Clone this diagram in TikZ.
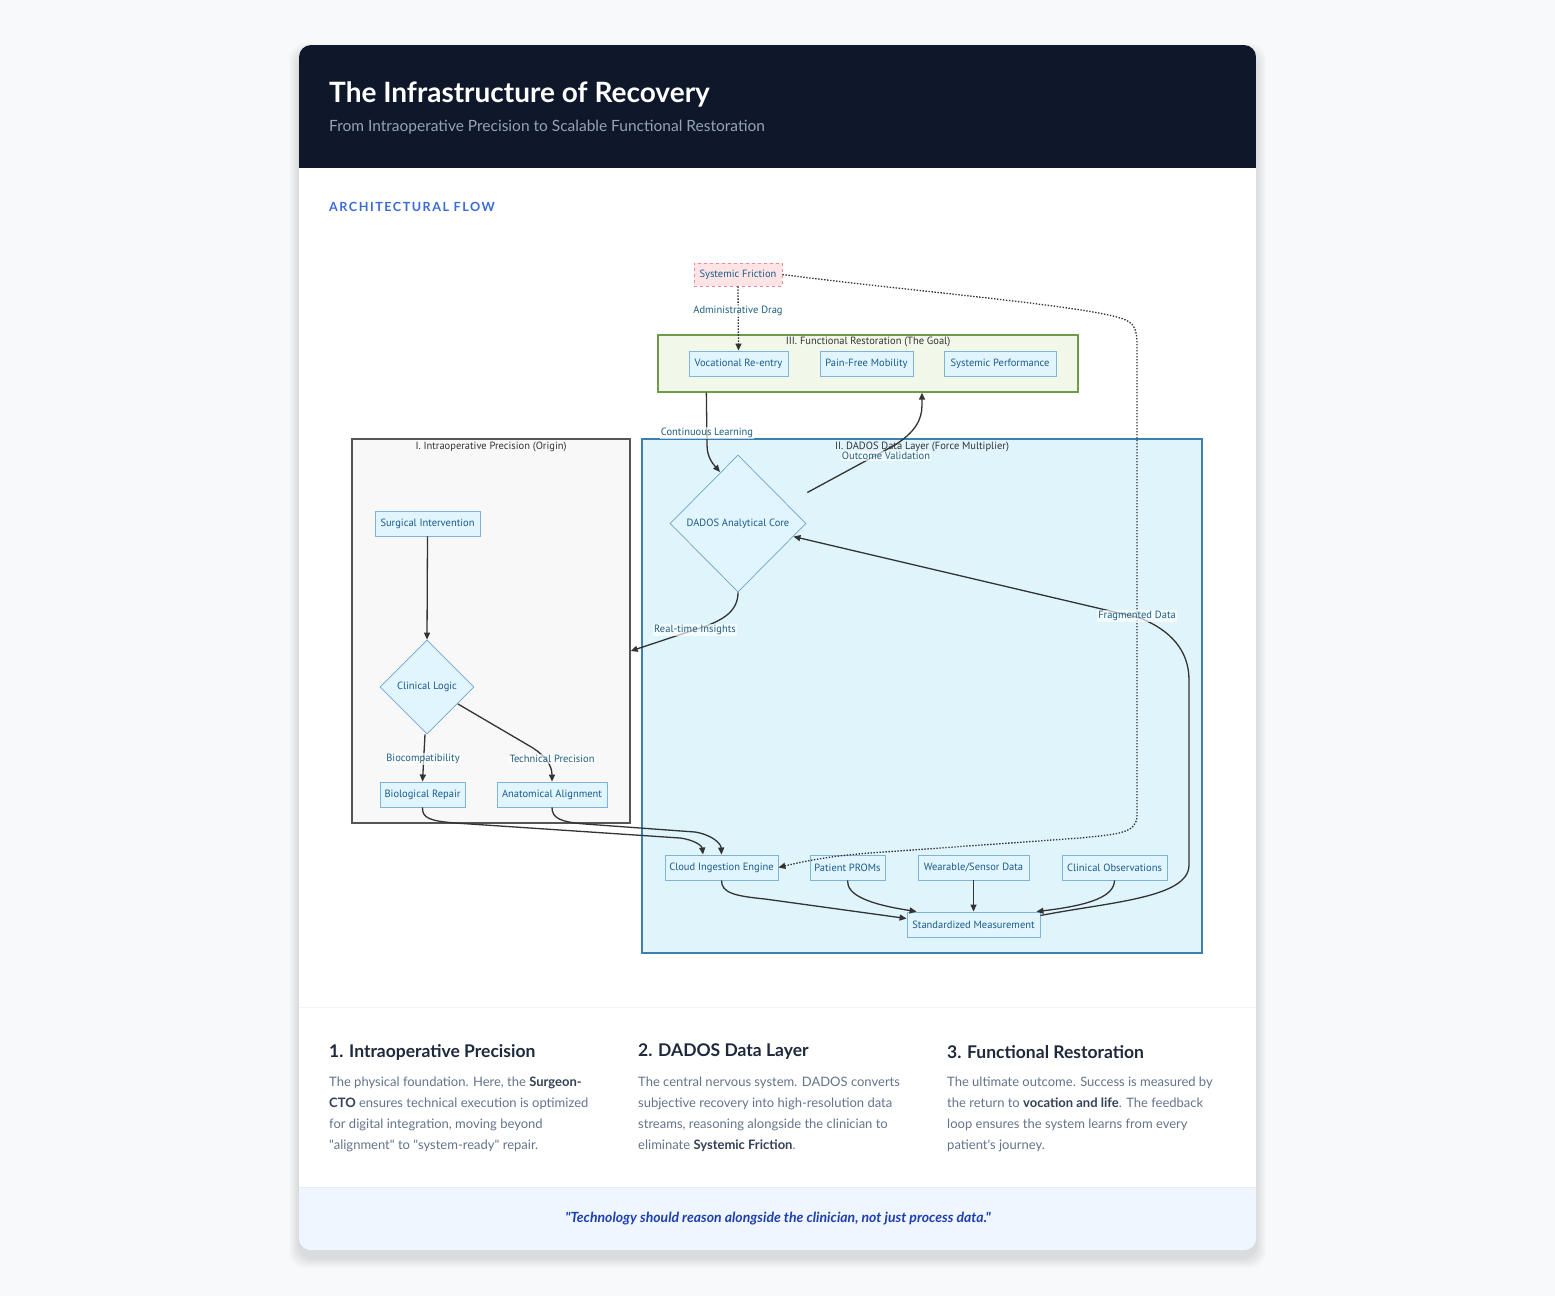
\documentclass[tikz,border=0pt]{standalone}
\usepackage{fontspec}
\setmainfont{Lato}[Ligatures=TeXOff]
\newfontfamily\dfont{PT Sans}[Ligatures=TeXOff]
\newfontfamily\spfont{Lato}[LetterSpace=12]
\usetikzlibrary{shapes.geometric,arrows.meta,calc}
\definecolor{pagebg}{HTML}{F7F9FB}
\definecolor{headbg}{HTML}{0F172A}
\definecolor{subcol}{HTML}{94A3B8}
\definecolor{archcol}{HTML}{3A6BD6}
\definecolor{headcol}{HTML}{1E293B}
\definecolor{bodycol}{HTML}{64748B}
\definecolor{boldcol}{HTML}{334155}
\definecolor{quotebg}{HTML}{EFF6FF}
\definecolor{quoteline}{HTML}{E3ECF7}
\definecolor{quotecol}{HTML}{1E40AF}
\definecolor{sepcol}{HTML}{F1F5F9}
\definecolor{nodefill}{HTML}{E1F5FE}
\definecolor{nodeborder}{HTML}{7FB3D8}
\definecolor{diaborder}{HTML}{6FA3C8}
\definecolor{nodetext}{HTML}{1B5A88}
\definecolor{lblcol}{HTML}{1F5F80}
\definecolor{edgecol}{HTML}{333333}
\definecolor{cthree}{HTML}{F1F8E9}
\definecolor{cthreeb}{HTML}{6E9A4A}
\definecolor{cone}{HTML}{F8F8F8}
\definecolor{coneb}{HTML}{555555}
\definecolor{ctwo}{HTML}{E0F4FC}
\definecolor{ctwob}{HTML}{3D7FB0}
\definecolor{sffill}{HTML}{FFE4E6}
\definecolor{sfborder}{HTML}{E88A98}
\definecolor{ctitlecol}{HTML}{333333}
\begin{document}
\begin{tikzpicture}[x=1pt,y=-1pt,
  dtext/.style={font=\dfont\fontsize{10.5}{12}\selectfont},
  box/.style={dtext,draw=nodeborder,fill=nodefill,line width=0.9pt,text=nodetext,minimum height=25pt,inner sep=0pt},
  dia/.style={dtext,diamond,aspect=1,draw=diaborder,fill=nodefill,line width=0.7pt,text=nodetext,inner sep=0pt},
  cluster/.style={line width=1.3pt,inner sep=0pt},
  ctitle/.style={dtext,text=ctitlecol,inner sep=1pt},
  edge/.style={draw=edgecol,line width=1.3pt,-{Triangle[length=7pt,width=6pt]}},
  dotedge/.style={edge,dash pattern=on 1.4pt off 1.6pt},
  lbl/.style={dtext,text=lblcol,fill=white,fill opacity=0.65,text opacity=1,inner sep=1pt},
  body/.style={font=\fontsize{13}{21}\selectfont,text=bodycol,anchor=north west,align=left,inner sep=0pt},
  colhead/.style={font=\bfseries\fontsize{17.5}{21}\selectfont,text=headcol,anchor=west,inner sep=0pt}
]
\useasboundingbox (0,0) rectangle (1555,1296);
\fill[pagebg] (0,0) rectangle (1555,1296);
% shadow
\foreach \i in {1,...,10}{
  \fill[black,opacity=0.010,rounded corners=16pt] (299-\i,45-\i+8) rectangle (1256+\i,1250+\i+8);
}
% card
\fill[white,rounded corners=12pt] (299,45) rectangle (1256,1250);
\begin{scope}
  \clip[rounded corners=12pt] (299,45) rectangle (1256,1250);
  \fill[headbg] (299,45) rectangle (1256,168);
  \fill[quotebg] (299,1187) rectangle (1256,1250);
  \draw[quoteline,line width=1pt] (299,1187) -- (1256,1187);
  \draw[sepcol,line width=1pt] (299,1007) -- (1256,1007);
\end{scope}

% header
\node[anchor=west,inner sep=0pt,text=white,font=\bfseries\fontsize{28}{32}\selectfont] (title) at (329,94) {The Infrastructure of Recovery};
\node[anchor=west,inner sep=0pt,text=subcol,font=\fontsize{15.5}{18}\selectfont] (subtitle) at (329,127) {From Intraoperative Precision to Scalable Functional Restoration};
\node[anchor=west,inner sep=0pt,text=archcol,font=\spfont\bfseries\fontsize{12.6}{15}\selectfont] (arch) at (329,207) {ARCHITECTURAL FLOW};

% clusters
\node[cluster,draw=cthreeb,fill=cthree,minimum width=420pt,minimum height=57pt] (c3) at (868,363.5) {};
\node[cluster,draw=coneb,fill=cone,minimum width=278pt,minimum height=384pt] (c1) at (491,631) {};
\node[cluster,draw=ctwob,fill=ctwo,minimum width=560pt,minimum height=514pt] (c2) at (922,696) {};
\node[ctitle] (c3t) at (868,342) {III. Functional Restoration (The Goal)};
\node[ctitle] (c1t) at (491,447) {I. Intraoperative Precision (Origin)};
\node[ctitle] (c2t) at (922,447) {II. DADOS Data Layer (Force Multiplier)};

% nodes
\node[box,draw=sfborder,fill=sffill,dashed,minimum width=88pt,minimum height=23pt] (sf) at (738,274.5) {Systemic Friction};
\node[box,minimum width=99pt] (vr) at (738.5,363.5) {Vocational Re-entry};
\node[box,minimum width=93pt] (pfm) at (866.5,363.5) {Pain-Free Mobility};
\node[box,minimum width=112pt] (sp) at (1000,363.5) {Systemic Performance};
\node[box,minimum width=105pt] (si) at (427.5,523.5) {Surgical Intervention};
\node[dia,minimum width=94pt,minimum height=94pt] (cl) at (427,687) {Clinical Logic};
\node[box,minimum width=85pt] (br) at (422.5,794.5) {Biological Repair};
\node[box,minimum width=110pt] (aa) at (552,794.5) {Anatomical Alignment};
\node[dia,minimum width=136pt,minimum height=137pt] (core) at (738,523.5) {DADOS Analytical Core};
\node[box,minimum width=113pt] (cie) at (721.5,867.5) {Cloud Ingestion Engine};
\node[box,minimum width=75pt] (pp) at (847.5,867.5) {Patient PROMs};
\node[box,minimum width=111pt] (ws) at (973.5,867.5) {Wearable/Sensor Data};
\node[box,minimum width=105pt] (co) at (1114.5,867.5) {Clinical Observations};
\node[box,minimum width=133pt] (sm) at (973.5,924.5) {Standardized Measurement};

% edges
\draw[dotedge] (sf.south) -- (vr.north);
\draw[dotedge] (sf.east) .. controls (900,290) and (1080,305) .. (1120,318)
  .. controls (1135,322) and (1137,330) .. (1137,345) -- (1137,815)
  .. controls (1137,833) and (1120,834) .. (1080,838) -- (870,853)
  .. controls (830,856) and (805,861) .. (cie.east);
\draw[edge] ($(c3.south west)+(49,0)$) -- (707,445) .. controls (707,458) and (714,465) .. (720,472);
\draw[edge] ($(core.east)+(1,-31)$) -- (895,445) .. controls (915,432) and (922,420) .. (922,405) -- (c3.south -| 922,0);
\draw[edge] (core.south) .. controls (738,610) and (725,620) .. (700,628) -- ($(c1.east)+(0,20)$);
\draw[edge] ($(sm.east)+(0,-9)$) .. controls (1110,902) and (1189,898) .. (1189,865) -- (1189,680)
  .. controls (1189,650) and (1170,630) .. (1140,618) -- (core);
\draw[edge] (si.south) -- (cl.north);
\draw[edge] ($(cl.south)+(-2,0)$) -- (br.north);
\draw[edge] (458,704) -- (533,748) .. controls (545,756) and (552,765) .. (aa.north);
\draw[edge] (br.south) .. controls (422,818) and (430,821) .. (455,823) -- (680,838) .. controls (695,840) and (702,846) .. ($(cie.north)+(-18.5,0)$);
\draw[edge] (aa.south) .. controls (552,818) and (560,822) .. (585,824) -- (695,832) .. controls (713,835) and (721,844) .. (cie.north);
\draw[edge] (cie.south) .. controls (721.5,893) and (735,896) .. (765,899) -- ($(sm.west)+(0,-6)$);
\draw[edge] (pp.south) .. controls (847,895) and (868,904) .. ($(sm.north west)+(10,0)$);
\draw[edge] (ws.south) -- (sm.north);
\draw[edge] (co.south) .. controls (1114,896) and (1092,905) .. ($(sm.north east)+(-4,0)$);

% edge labels
\node[lbl] (l1) at (738,311) {Administrative Drag};
\node[lbl] (l2) at (707,433) {Continuous Learning};
\node[lbl] (l3) at (886,456) {Outcome Validation};
\node[lbl] (l4) at (695,630) {Real-time Insights};
\node[lbl] (l5) at (1137,616) {Fragmented Data};
\node[lbl] (l6) at (423,759) {Biocompatibility};
\node[lbl] (l7) at (552,759) {Technical Precision};

% bottom columns
\node[colhead] (h1) at (329,1052) {1. Intraoperative Precision};
\node[colhead] (h2) at (638,1052) {2. DADOS Data Layer};
\node[colhead] (h3) at (947,1052) {3. Functional Restoration};
\node[body] (b1) at (329,1077) {The physical foundation. Here, the \textcolor{boldcol}{\bfseries Surgeon-}\\\textcolor{boldcol}{\bfseries CTO} ensures technical execution is optimized\\for digital integration, moving beyond\\"alignment" to "system-ready" repair.};
\node[body] (b2) at (638,1077) {The central nervous system. DADOS converts\\subjective recovery into high-resolution data\\streams, reasoning alongside the clinician to\\eliminate \textcolor{boldcol}{\bfseries Systemic Friction}.};
\node[body] (b3) at (947,1077) {The ultimate outcome. Success is measured by\\the return to \textcolor{boldcol}{\bfseries vocation and life}. The feedback\\loop ensures the system learns from every\\patient's journey.};

% quote
\node[text=quotecol,font=\bfseries\itshape\fontsize{14}{17}\selectfont,inner sep=0pt] (quote) at (778,1219) {"Technology should reason alongside the clinician, not just process data."};
\end{tikzpicture}
\end{document}
